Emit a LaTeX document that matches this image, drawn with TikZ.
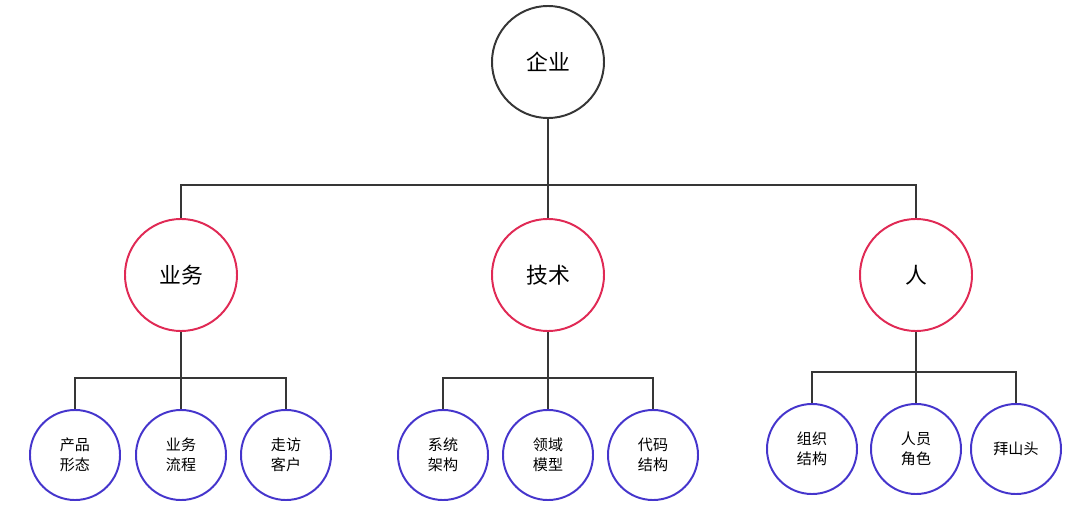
\documentclass[tikz,border=0pt]{standalone}
\usepackage{fontspec}
\newfontfamily\cjk{Noto Sans CJK SC}
\usetikzlibrary{positioning}

\definecolor{linegray}{HTML}{363636}
\definecolor{midred}{HTML}{E02A55}
\definecolor{leafblue}{HTML}{4535CC}

\begin{document}
\begin{tikzpicture}[x=0.025cm, y=-0.025cm,
    big/.style={circle, draw=#1, line width=1.4pt, minimum size=2.8cm, inner sep=0pt,
      font=\cjk\fontsize{15.5}{18}\selectfont},
    leaf/.style={circle, draw=leafblue, line width=1.4pt, minimum size=2.25cm, inner sep=0pt,
      align=center, font=\cjk\fontsize{10.7}{14.2}\selectfont},
    link/.style={draw=linegray, line width=1.4pt}]
    \useasboundingbox (0,0) rectangle (1080,512);

    \node[big=linegray] (firm) at (548,62) {企业};

    \node[big=midred] (biz) at (181,275) {业务};
    \node[big=midred] (tech) at (548,275) {技术};
    \node[big=midred] (ppl) at (916,275) {人};

    \node[leaf] (biz1) at (75,455) {产品\\形态};
    \node[leaf] (biz2) at (181,455) {业务\\流程};
    \node[leaf] (biz3) at (286,455) {走访\\客户};

    \node[leaf] (tech1) at (443,455) {系统\\架构};
    \node[leaf] (tech2) at (548,455) {领域\\模型};
    \node[leaf] (tech3) at (653,455) {代码\\结构};

    \node[leaf] (ppl1) at (812,449) {组织\\结构};
    \node[leaf] (ppl2) at (916,449) {人员\\角色};
    \node[leaf] (ppl3) at (1016,449) {拜山头};

    % buses
    \coordinate (topbus) at (548,185);
    \coordinate (bizbus) at (181,378);
    \coordinate (techbus) at (548,378);
    \coordinate (pplbus) at (916,372);

    \draw[link] (firm) -- (topbus) -- (tech);
    \draw[link] (biz.north) |- (topbus) -| (ppl.north);

    \draw[link] (biz) -- (bizbus) -- (biz2);
    \draw[link] (biz1.north) |- (bizbus) -| (biz3.north);

    \draw[link] (tech) -- (techbus) -- (tech2);
    \draw[link] (tech1.north) |- (techbus) -| (tech3.north);

    \draw[link] (ppl) -- (pplbus) -- (ppl2);
    \draw[link] (ppl1.north) |- (pplbus) -| (ppl3.north);
  \end{tikzpicture}
\end{document}
